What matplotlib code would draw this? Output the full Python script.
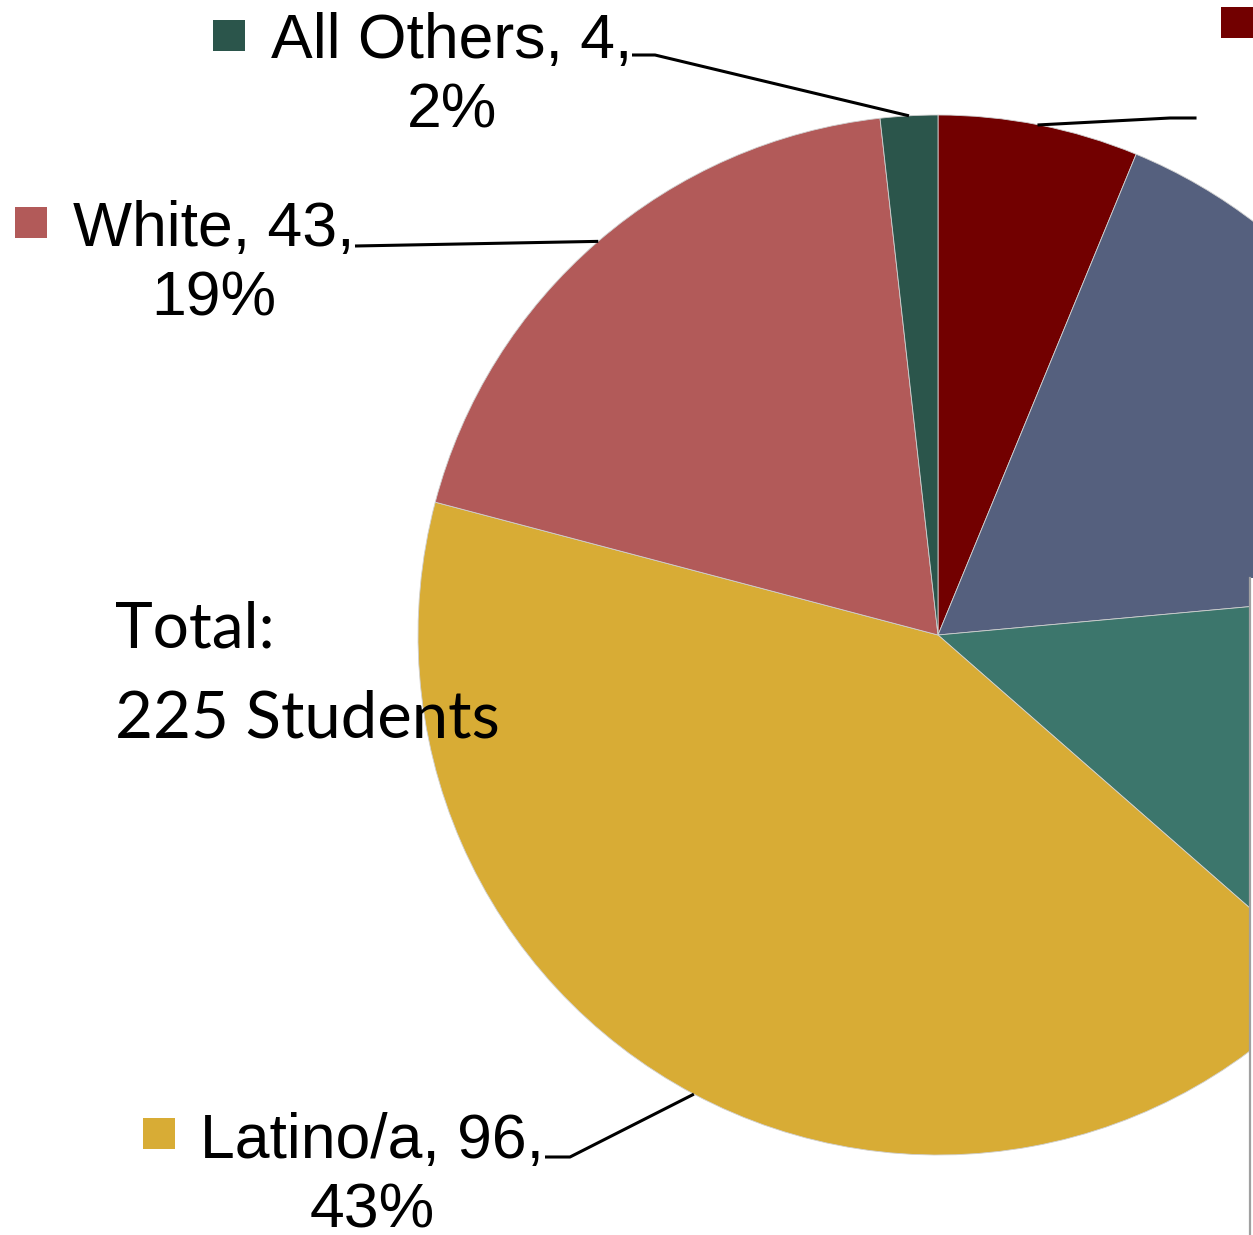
import numpy as np
import matplotlib
matplotlib.use('Agg')
import matplotlib.pyplot as plt
from matplotlib.patches import Rectangle

plt.rcParams['font.family'] = ['Liberation Sans', 'DejaVu Sans']

# Slices clockwise from 12 o'clock (the first three have their labels off the slide)
names = [None, None, None, 'Latino/a', 'White', 'All Others']
counts = [14, 39, 29, 96, 43, 4]
colors = ['#720000', '#55607e', '#3c766c', '#d8ac35', '#b25a59', '#2b554b']
total = sum(counts)

W, H = 1253, 1235
fig = plt.figure(figsize=(W / 100, H / 100), dpi=100)
ax = fig.add_axes([0, 0, 1, 1])

# pixel-like coordinates, y pointing down
cx, cy, r = 938, 635, 520
wedges, _ = ax.pie(counts, colors=colors, startangle=270, counterclock=True,
                   center=(cx, cy), radius=r,
                   wedgeprops=dict(linewidth=0.6, edgecolor='#d0d0d0'))
ax.set_xlim(0, W)
ax.set_ylim(H, 0)
ax.set_aspect('auto')
ax.axis('off')


def anchor(w):
    a = np.deg2rad((w.theta1 + w.theta2) / 2)
    return cx + r * np.cos(a), cy + r * np.sin(a)


# label layout: (text centre x, text centre y, square x, square y, leader path)
layout = {
    'All Others': (452, 76, 213, 20, [(655, 55), (632, 55)]),
    'White': (214, 264, 15, 207, [(355, 246)]),
    'Latino/a': (372, 1176, 143, 1118, [(570, 1157), (545, 1157)]),
}

for i, name in enumerate(names):
    if name is None:
        continue
    tx, ty, sx, sy, path = layout[name]
    pct = round(counts[i] / total * 100)
    ax.text(tx, ty, f'{name}, {counts[i]},\n{pct}%', ha='center', va='center',
            fontsize=45, linespacing=1.22, color='black')
    ax.add_patch(Rectangle((sx, sy), 32, 31, facecolor=colors[i], edgecolor='none'))
    ax0, ay0 = anchor(wedges[i])
    xs = [ax0] + [p[0] for p in path]
    ys = [ay0] + [p[1] for p in path]
    ax.plot(xs, ys, color='black', lw=2.2, solid_capstyle='butt')

# first slice: label runs off the right edge, only marker and leader visible
ax0, ay0 = anchor(wedges[0])
ax.plot([ax0, 1170, 1195], [ay0, 118, 118], color='black', lw=2.2)
ax.add_patch(Rectangle((1221, 7), 32, 31, facecolor=colors[0], edgecolor='none'))

# slide frame on the right side
ax.add_patch(Rectangle((1250, 578), 10, H - 578, facecolor='white', edgecolor='none', zorder=5))
ax.plot([1250, 1250], [578, H], color='#a0a0a0', lw=1.6, zorder=6)

ax.text(115, 648, 'Total:', fontsize=46, family=['Lato', 'DejaVu Sans'],
        ha='left', va='baseline')
ax.text(115, 738, '225 Students', fontsize=47, family=['Lato', 'DejaVu Sans'],
        ha='left', va='baseline')

fig.savefig('out.png', dpi=100)
